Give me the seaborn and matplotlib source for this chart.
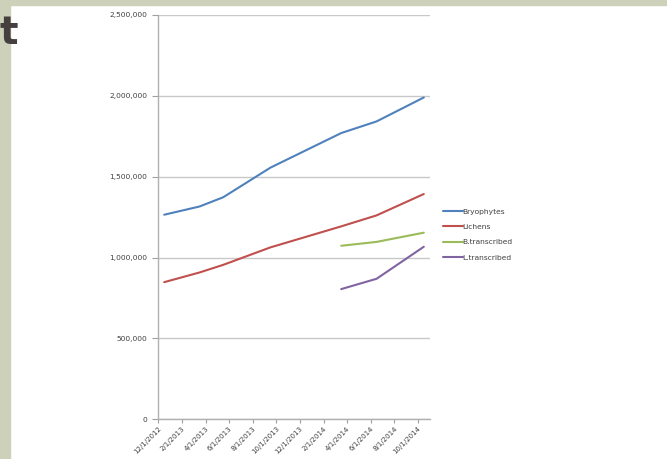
import matplotlib
matplotlib.use("Agg")
import matplotlib.pyplot as plt
from matplotlib.patches import Rectangle
import seaborn as sns
import pandas as pd
from matplotlib.ticker import FuncFormatter

# ---- data ----
dates_main = ['12/1/2012', '3/1/2013', '5/1/2013', '9/1/2013', '3/1/2014', '6/1/2014', '10/1/2014']
bryophytes = [1265000, 1316000, 1373000, 1556000, 1770000, 1842000, 1990000]
lichens = [848000, 908000, 955000, 1063000, 1193000, 1261000, 1393000]
dates_trans = ['3/1/2014', '6/1/2014', '10/1/2014']
b_transcribed = [1073000, 1097000, 1154000]
l_transcribed = [805000, 869000, 1067000]

series_names = ['Bryophytes', 'Lichens', 'B.transcribed', 'L.transcribed']
series_colors = ['#4F81BD', '#C0504D', '#9BBB59', '#8064A2']
x_tick_labels = ['12/1/2012', '2/1/2013', '4/1/2013', '6/1/2013', '8/1/2013', '10/1/2013',
                 '12/1/2013', '2/1/2014', '4/1/2014', '6/1/2014', '8/1/2014', '10/1/2014']
y_ticks = [0, 500000, 1000000, 1500000, 2000000, 2500000]


def month_pos(d):
    m, _, y = d.split('/')
    return (int(y) - 2012) * 12 + int(m) - 12


rows = []
for name, dates, vals in [('Bryophytes', dates_main, bryophytes),
                          ('Lichens', dates_main, lichens),
                          ('B.transcribed', dates_trans, b_transcribed),
                          ('L.transcribed', dates_trans, l_transcribed)]:
    for d, v in zip(dates, vals):
        rows.append({'series': name, 'x': month_pos(d) + 0.5, 'value': v})
df = pd.DataFrame(rows)

sns.set_style('white')
plt.rcParams['font.family'] = ['DejaVu Sans']

W, H = 667, 459
fig = plt.figure(figsize=(W / 100, H / 100), dpi=100)
fig.patch.set_facecolor('white')

# slide background strips
bg = '#CDD1BA'
fig.patches.append(Rectangle((0, 0), 10 / W, 1, transform=fig.transFigure, color=bg, zorder=0))
fig.patches.append(Rectangle((0, 1 - 5 / H), 1, 5 / H, transform=fig.transFigure, color=bg, zorder=0))
fig.text(-1 / W, 1 - 44 / H, 't', fontsize=28, color='#463F40', ha='left', va='baseline',
         fontweight='bold')

ax = fig.add_axes([158.3 / W, 39.7 / H, (429.7 - 158.3) / W, (419.3 - 15) / H])
ax.set_facecolor('none')

sns.lineplot(data=df, x='x', y='value', hue='series', hue_order=series_names,
             palette=dict(zip(series_names, series_colors)), linewidth=1.5, ax=ax,
             estimator=None, sort=True)

ax.set_xlim(0, 23)
ax.set_ylim(0, 2500000)
ax.set_xticks(range(0, 23, 2))
ax.set_xticklabels(x_tick_labels, rotation=45, ha='right', rotation_mode='anchor',
                   fontsize=5.0, color='#404040')
ax.set_yticks(y_ticks)
ax.yaxis.set_major_formatter(FuncFormatter(lambda v, p: f'{int(v):,}'))
ax.tick_params(axis='y', labelsize=5.4, labelcolor='#404040', length=4, width=0.8,
               color='#A0A0A0', left=True, pad=4)
ax.tick_params(axis='x', length=3, width=0.8, color='#A0A0A0', bottom=True, pad=1.5)
ax.set_xlabel('')
ax.set_ylabel('')
ax.grid(axis='y', color='#C8C8C8', linewidth=1.0)
ax.grid(axis='x', visible=False)
for s in ['top', 'right']:
    ax.spines[s].set_visible(False)
for s in ['left', 'bottom']:
    ax.spines[s].set_color('#B0B0B0')
    ax.spines[s].set_linewidth(1.0)

handles, labels = ax.get_legend_handles_labels()
ax.legend(handles, labels, loc='upper left', bbox_to_anchor=(443 / W, 1 - 208.5 / H),
          bbox_transform=fig.transFigure, frameon=False, fontsize=5.4,
          handlelength=2.6, handletextpad=0.0, labelspacing=1.2, borderpad=0,
          borderaxespad=0)
for t in ax.get_legend().get_texts():
    t.set_color('#404040')

fig.savefig('out.png', dpi=100)
